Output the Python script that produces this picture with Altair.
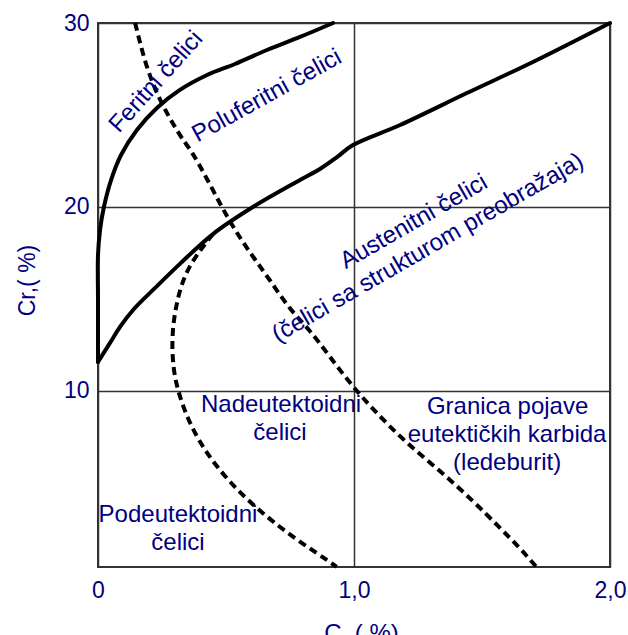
import altair as alt
import pandas as pd

# Solid boundary: ferritic / semi-ferritic (from top, down to the C=0 corner)
FER_C = [0.918, 0.789, 0.66, 0.535, 0.426, 0.32, 0.23, 0.152, 0.09, 0.051, 0.023, 0.008, 0.0, 0.0, 0.0]
FER_CR = [30.0, 29.24, 28.53, 27.77, 27.17, 26.36, 25.38, 24.18, 22.82, 21.46, 19.99, 18.74, 17.38, 14.93, 11.56]

# Solid boundary: semi-ferritic / austenitic
AUS_C = [0.0, 0.047, 0.086, 0.137, 0.223, 0.32, 0.449, 0.605, 0.789, 0.867, 0.934, 0.996, 1.18, 1.441, 1.699, 2.0]
AUS_CR = [11.56, 12.6, 13.47, 14.39, 15.59, 16.9, 18.52, 19.99, 21.46, 22.06, 22.71, 23.36, 24.45, 26.19, 27.88, 30.0]

# Dashed boundary: hypo- / hyper-eutectoid
NAD_C = [0.449, 0.347, 0.308, 0.288, 0.292, 0.312, 0.347, 0.398, 0.464, 0.554, 0.659, 0.76, 0.854, 0.932]
NAD_CR = [18.52, 16.72, 14.93, 13.13, 11.29, 9.98, 8.57, 7.16, 5.85, 4.44, 3.14, 2.05, 1.18, 0.42]

# Dashed boundary: eutectic carbides (ledeburite)
LED_C = [0.145, 0.184, 0.234, 0.30, 0.34, 0.371, 0.449, 0.515, 0.594, 0.672, 0.75, 0.828, 0.906, 0.996, 1.088, 1.205, 1.333, 1.462, 1.567, 1.645, 1.712]
LED_CR = [30.0, 27.8, 25.97, 24.34, 23.47, 22.93, 20.92, 19.16, 17.49, 16.02, 14.39, 13.3, 11.83, 10.2, 8.78, 7.15, 5.68, 4.05, 2.58, 1.49, 0.42]

# Region labels
LABEL_TEXT = ["Feritni čelici", "Poluferitni čelici", "Austenitni čelici",
              "(čelici sa strukturom preobražaja)",
              "Nadeutektoidni", "čelici",
              "Granica pojave", "eutektičkih karbida", "(ledeburit)",
              "Podeutektoidni", "čelici"]
LABEL_C = [0.227, 0.66, 1.234, 1.289, 0.715, 0.711, 1.60, 1.598, 1.598, 0.3125, 0.3125]
LABEL_CR = [26.79, 26.03, 19.18, 17.76, 9.22, 7.70, 9.11, 7.59, 6.07, 3.24, 1.72]
LABEL_ANGLE = [312, 331, 330, 330, 0, 0, 0, 0, 0, 0, 0]

X_TICKS = [0, 1, 2]
Y_TICKS = [10, 20, 30]

NAVY = "#000080"
FONT = "Liberation Sans"


def series(name, cs, crs):
    return pd.DataFrame({"C": cs, "Cr": crs, "series": name, "ord": list(range(len(cs)))})


solid_df = pd.concat([series("fer", FER_C, FER_CR), series("aus", AUS_C, AUS_CR)], ignore_index=True)
dashed_df = pd.concat([series("nad", NAD_C, NAD_CR), series("led", LED_C, LED_CR)], ignore_index=True)
label_df = pd.DataFrame({"C": LABEL_C, "Cr": LABEL_CR, "text": LABEL_TEXT, "angle": LABEL_ANGLE})

x_enc = alt.X(
    "C:Q",
    scale=alt.Scale(domain=[0, 2], nice=False, zero=False),
    axis=alt.Axis(
        values=X_TICKS,
        title="C, ( %)",
        labelExpr="datum.value == 0 ? '0' : replace(format(datum.value, '.1f'), '.', ',')",
        labelPadding=12,
        labelFlush=False,
        labelOverlap=False,
        titleX=263,
        titleY=54,
        titleAlign="center",
        titleFontSize=24,
    ),
)
y_enc = alt.Y(
    "Cr:Q",
    scale=alt.Scale(domain=[0.41, 30], nice=False, zero=False),
    axis=alt.Axis(
        values=Y_TICKS,
        title="Cr,( %)",
        labelPadding=9,
        labelFlush=False,
        labelOverlap=False,
        titleX=-59,
        titleY=257,
        titleAngle=270,
        titleAlign="center",
        titleBaseline="bottom",
        titleFontSize=23,
    ),
)

solid = alt.Chart(solid_df).mark_line(
    color="black", strokeWidth=4, interpolate="catmull-rom", strokeCap="round", strokeJoin="round"
).encode(x=x_enc, y=y_enc, detail="series:N", order="ord:Q")

dashed = alt.Chart(dashed_df).mark_line(
    color="black", strokeWidth=4, strokeDash=[8, 5], interpolate="basis"
).encode(x=x_enc, y=y_enc, detail="series:N", order="ord:Q")

labels = alt.Chart(label_df).mark_text(
    font=FONT, fontSize=24, color=NAVY, align="center", baseline="middle"
).encode(x=x_enc, y=y_enc, text="text:N", angle=alt.Angle("angle:Q", scale=None))

chart = alt.layer(solid, dashed, labels).properties(
    width=512,
    height=544,
    autosize=alt.AutoSizeParams(type="none"),
    padding={"left": 98, "top": 23, "right": 18, "bottom": 68},
    background="white",
).configure_view(
    stroke="#333333", strokeWidth=2
).configure_axis(
    grid=True,
    gridColor="#333333",
    gridWidth=1.5,
    gridOpacity=1,
    domain=False,
    ticks=False,
    tickSize=0,
    labelFont=FONT,
    labelFontSize=23,
    labelColor=NAVY,
    titleFont=FONT,
    titleColor=NAVY,
    titleFontWeight="normal",
)

chart.save("out.html", embed_options={"renderer": "svg", "actions": False})
